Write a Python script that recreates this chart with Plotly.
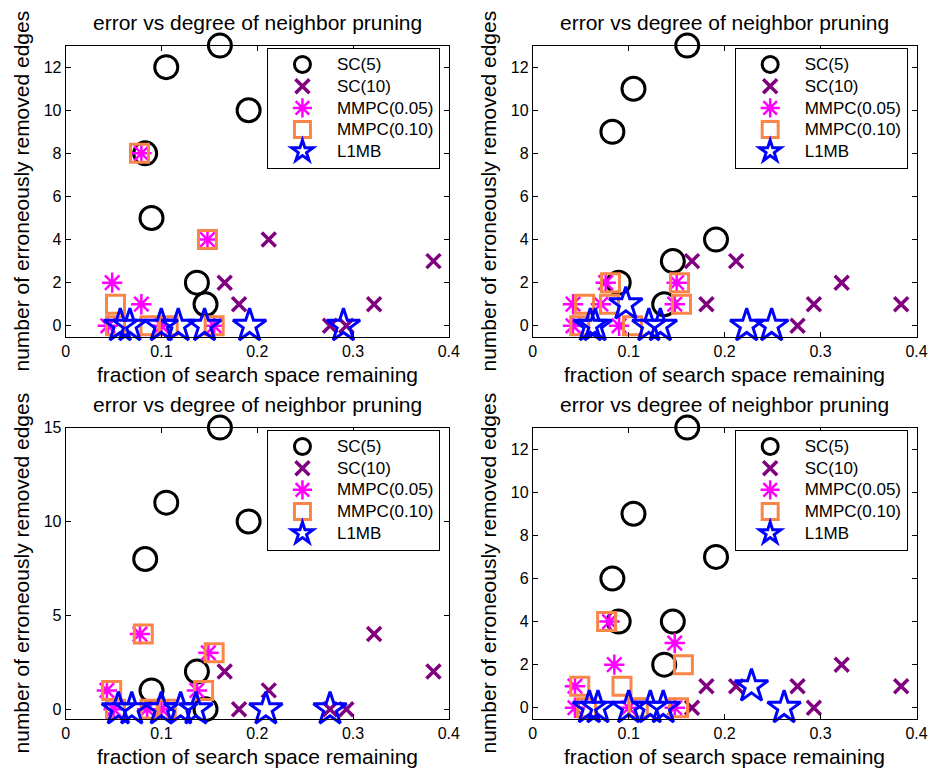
import plotly.graph_objects as go

# ---------------- data ----------------
sc5_x = [0.083, 0.0896, 0.105, 0.137, 0.146, 0.161, 0.191]
sc10_x = [0.166, 0.181, 0.212, 0.276, 0.293, 0.322, 0.384]

# panel 1 (top-left)
p1_sc5_y = [8, 5, 12, 2, 1, 13, 10]
p1_sc10_y = [2, 1, 4, 0, 0, 1, 3]
p1_m05_x = [0.044, 0.0485, 0.079, 0.079, 0.100, 0.148, 0.155]
p1_m05_y = [0, 2, 1, 8, 0, 4, 0]
p1_m10_x = [0.052, 0.052, 0.077, 0.088, 0.107, 0.148, 0.155]
p1_m10_y = [0, 1, 8, 0, 0, 4, 0]
p1_l1_x = [0.057, 0.067, 0.0998, 0.1175, 0.145, 0.192, 0.290]
p1_l1_y = [0, 0, 0, 0, 0, 0, 0]

# panel 2 (top-right)
p2_sc5_y = [9, 2, 11, 1, 3, 13, 4]
p2_sc10_y = [3, 1, 3, 0, 1, 2, 1]
p2_m05_x = [0.042, 0.042, 0.071, 0.076, 0.090, 0.148, 0.150]
p2_m05_y = [0, 1, 1, 2, 0, 1, 2]
p2_m10_x = [0.049, 0.054, 0.080, 0.081, 0.104, 0.153, 0.155]
p2_m10_y = [0, 1, 1, 2, 0, 2, 1]
p2_l1_x = [0.060, 0.065, 0.097, 0.121, 0.133, 0.223, 0.249]
p2_l1_y = [0, 0, 1, 0, 0, 0, 0]

# panel 3 (bottom-left)
p3_sc5_y = [8, 1, 11, 2, 0, 15, 10]
p3_sc10_y = [2, 0, 1, 0, 0, 4, 2]
p3_m05_x = [0.043, 0.050, 0.0775, 0.085, 0.100, 0.137, 0.149]
p3_m05_y = [1, 0, 4, 0, 0, 1, 3]
p3_m10_x = [0.048, 0.052, 0.081, 0.088, 0.105, 0.144, 0.155]
p3_m10_y = [1, 0, 4, 0, 0, 1, 3]
p3_l1_x = [0.055, 0.069, 0.0998, 0.120, 0.136, 0.209, 0.276]
p3_l1_y = [0, 0, 0, 0, 0, 0, 0]

# panel 4 (bottom-right)
p4_sc5_y = [6, 4, 9, 2, 4, 13, 7]
p4_sc10_y = [0, 1, 1, 1, 0, 2, 1]
p4_m05_x = [0.044, 0.044, 0.080, 0.085, 0.100, 0.148, 0.148]
p4_m05_y = [0, 1, 4, 2, 0, 3, 0]
p4_m10_x = [0.049, 0.056, 0.077, 0.093, 0.110, 0.152, 0.157]
p4_m10_y = [1, 0, 4, 1, 0, 0, 2]
p4_l1_x = [0.059, 0.068, 0.100, 0.1225, 0.136, 0.228, 0.262]
p4_l1_y = [0, 0, 0, 0, 0, 1, 0]

series_names = ["SC(5)", "SC(10)", "MMPC(0.05)", "MMPC(0.10)", "L1MB"]
x_ticks = [0, 0.1, 0.2, 0.3, 0.4]
x_tick_text = ["0", "0.1", "0.2", "0.3", "0.4"]
y_ticks_a = [0, 2, 4, 6, 8, 10, 12]
y_ticks_b = [0, 5, 10, 15]

panels = [
    (p1_sc5_y, p1_sc10_y, p1_m05_x, p1_m05_y, p1_m10_x, p1_m10_y, p1_l1_x, p1_l1_y),
    (p2_sc5_y, p2_sc10_y, p2_m05_x, p2_m05_y, p2_m10_x, p2_m10_y, p2_l1_x, p2_l1_y),
    (p3_sc5_y, p3_sc10_y, p3_m05_x, p3_m05_y, p3_m10_x, p3_m10_y, p3_l1_x, p3_l1_y),
    (p4_sc5_y, p4_sc10_y, p4_m05_x, p4_m05_y, p4_m10_x, p4_m10_y, p4_l1_x, p4_l1_y),
]

# ---------------- layout geometry (pixels) ----------------
W, H = 942, 769
boxes = [  # left, right, top, bottom
    (62.7, 452, 38, 332),
    (537.3, 927.3, 38, 332),
    (62.7, 452, 424, 718),
    (537.3, 927.3, 424, 718),
]
yranges = [[-0.5, 13], [-0.5, 13], [-0.5, 15], [-0.5, 13]]
yticks = [y_ticks_a, y_ticks_a, y_ticks_b, y_ticks_a]

FONT = "Liberation Sans, Arial, sans-serif"
styles = [
    dict(symbol="circle-open", size=23, color="black", line=dict(width=3, color="black")),
    dict(symbol="x-thin-open", size=14, color="#800080", line=dict(width=3.5, color="#800080")),
    dict(symbol="asterisk-open", size=17, color="#FF00FF", line=dict(width=2.5, color="#FF00FF")),
    dict(symbol="square-open", size=18, color="#FA8548", line=dict(width=3, color="#FA8548")),
    dict(symbol="star-open", size=25, color="#0000FF", line=dict(width=3, color="#0000FF")),
]

fig = go.Figure()
layout = dict(width=W, height=H, margin=dict(l=0, r=0, t=0, b=0),
              paper_bgcolor="white", plot_bgcolor="white",
              font=dict(family=FONT, size=16, color="black"), annotations=[])

for i, (pan, box) in enumerate(zip(panels, boxes)):
    sc5_y, sc10_y, m05_x, m05_y, m10_x, m10_y, l1_x, l1_y = pan
    n = "" if i == 0 else str(i + 1)
    xa, ya = "x" + n, "y" + n
    leg = "legend" + n
    data = [(sc5_x, sc5_y), (sc10_x, sc10_y), (m05_x, m05_y), (m10_x, m10_y), (l1_x, l1_y)]
    for k, ((xs, ys), name) in enumerate(zip(data, series_names)):
        fig.add_trace(go.Scatter(x=xs, y=ys, mode="markers",
                                 name='<span style="font-size:17px">%s</span>' % name,
                                 marker=styles[k], xaxis=xa, yaxis=ya, legend=leg,
                                 cliponaxis=False))
    l, r, t, b = box
    axcommon = dict(showline=True, linecolor="black", linewidth=1, mirror="ticks",
                    ticks="inside", ticklen=5, tickcolor="black", showgrid=False,
                    zeroline=False, tickfont=dict(size=16, family=FONT))
    layout["xaxis" + n] = dict(domain=[l / W, r / W], anchor=ya, range=[0, 0.4],
                               tickvals=x_ticks, ticktext=x_tick_text, **axcommon)
    layout["yaxis" + n] = dict(domain=[1 - b / H, 1 - t / H], anchor=xa, range=yranges[i],
                               tickvals=yticks[i], **axcommon)
    layout[leg] = dict(x=(r - 9) / W, xanchor="right", y=1 - (t + 2) / H, yanchor="top",
                       bordercolor="black", borderwidth=1, bgcolor="white",
                       font=dict(size=14.4, family=FONT), itemwidth=59, tracegroupgap=0)
    cx = (l + r) / 2 / W
    layout["annotations"] += [
        dict(text="error vs degree of neighbor pruning", x=cx, y=1 - (t - 23) / H,
             xref="paper", yref="paper", showarrow=False, xanchor="center", yanchor="middle",
             font=dict(size=21, family=FONT)),
        dict(text="fraction of search space remaining", x=cx, y=1 - (b + 38) / H,
             xref="paper", yref="paper", showarrow=False, xanchor="center", yanchor="middle",
             font=dict(size=21, family=FONT)),
        dict(text="number of erroneously removed edges", x=(l - 45) / W, y=1 - (t + b) / 2 / H,
             xref="paper", yref="paper", showarrow=False, textangle=-90,
             xanchor="center", yanchor="middle", font=dict(size=21, family=FONT)),
    ]

fig.update_layout(**layout)
fig.write_html("out.html")
